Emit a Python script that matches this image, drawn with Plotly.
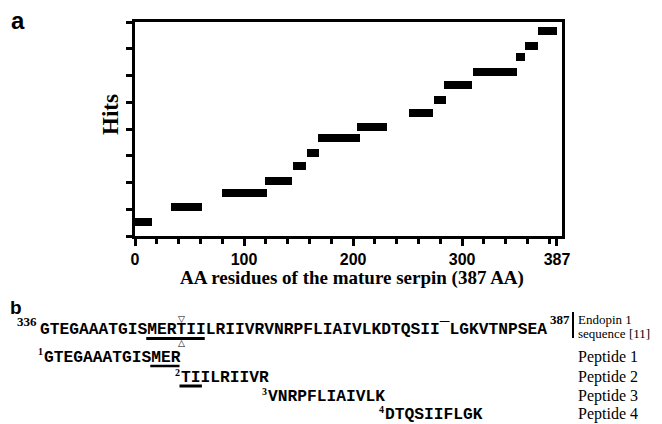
import plotly.graph_objects as go

# ---- data (panel a): peptide hits along the mature serpin ----
hit_start = [0, 33, 80, 119, 145, 158, 168, 204, 251, 274, 283, 310, 349, 358, 370]
hit_end = [16, 61, 121, 144, 157, 169, 206, 231, 273, 285, 309, 350, 358, 370, 387]
hit_level = [0.53, 1.10, 1.60, 2.07, 2.62, 3.09, 3.65, 4.06, 4.61, 5.08, 5.63, 6.13, 6.68, 7.12, 7.67]
x_tickvals = [0, 100, 200, 300, 387]
x_ticktext = ["0", "100", "200", "300", "387"]
y_tickvals = [0, 1, 2, 3, 4, 5, 6, 7, 8]

# ---- data (panel b): sequences ----
endopin_seq = "GTEGAAATGISMERTIILRIIVRVNRPFLIAIVLKDTQSII\u00afLGKVTNPSEA"
endopin_start_num = "336"
endopin_end_num = "387"
peptides = ["GTEGAAATGISMER", "TIILRIIVR", "VNRPFLIAIVLK", "DTQSIIFLGK"]
peptide_offsets = [0, 14, 23, 35]
peptide_nums = ["1", "2", "3", "4"]
peptide_labels = ["Peptide 1", "Peptide 2", "Peptide 3", "Peptide 4"]

PAGE_W, PAGE_H = 662, 424
OFF = 8  # default page body margin
L, R, T, B = 135, 562, 22, 236  # plot area in page pixels


def px(x):
    return (x - L) / (R - L)


def py(y):
    return (B - y) / (B - T)


fig = go.Figure()
fig.add_trace(go.Bar(
    orientation="h",
    y=hit_level,
    x=[e - s for s, e in zip(hit_start, hit_end)],
    base=hit_start,
    width=0.3,
    marker=dict(color="black", line=dict(width=0)),
    showlegend=False,
    hoverinfo="skip",
))

ann = []


def add_text(text, x, y, size, family, xanchor="left", yanchor="middle", bold=False, angle=0):
    t = f"<b>{text}</b>" if bold else text
    ann.append(dict(text=t, x=px(x), y=py(y), xref="paper", yref="paper",
                    xanchor=xanchor, yanchor=yanchor, showarrow=False,
                    textangle=angle, borderpad=0,
                    font=dict(size=size, family=family, color="black")))


SERIF = "Liberation Serif"
SANS = "Liberation Sans"
MONO = "Liberation Mono"

# panel labels
add_text("a", 10, 21, 24, SANS, bold=True)
add_text("b", 9, 307, 19, SANS, bold=True)

# axis titles
add_text("Hits", 110, 115, 23, SERIF, xanchor="center", bold=True, angle=-90)
add_text("AA residues of the mature serpin (387 AA)", 352, 278, 19, SERIF,
         xanchor="center", bold=True)

# sequence lines
x0 = 39
cw = 9.75
fs = cw / 0.6
line_y = [329, 357, 377, 396, 414]
add_text(endopin_start_num, 16, 321, 13, SERIF, bold=True)
add_text(endopin_seq, x0, line_y[0], fs, MONO, bold=True)
end_x = x0 + len(endopin_seq) * cw
add_text(endopin_end_num, end_x + 3, 319, 13, SERIF, bold=True)
add_text("Endopin 1", 577, 319, 13, SERIF)
add_text("sequence [11]", 577, 333, 13, SERIF)

for i, (pep, off, num, lab) in enumerate(zip(peptides, peptide_offsets, peptide_nums, peptide_labels)):
    yy = line_y[i + 1]
    xs = x0 + off * cw + 4
    add_text(pep, xs, yy, fs, MONO, bold=True)
    add_text(num, xs + 1, yy - 5, 10, SERIF, xanchor="right", bold=True)
    add_text(lab, 577, yy, 16, SERIF)

# cleavage-site markers
add_text("\u25bd", 181, 319, 9, "DejaVu Sans", xanchor="center")
add_text("\u25b3", 181, 343, 9, "DejaVu Sans", xanchor="center")

shapes = []


def hline(xa, xb, y, w):
    shapes.append(dict(type="line", xref="paper", yref="paper",
                       x0=px(xa), x1=px(xb), y0=py(y), y1=py(y),
                       line=dict(color="black", width=w)))


# underlines
hline(x0 + 11 * cw, x0 + 17 * cw, 338.5, 3)
hline(x0 + 4 + 11 * cw, x0 + 4 + 14 * cw, 366, 2.5)
hline(x0 + 4 + 14 * cw, x0 + 4 + 16.3 * cw, 386, 3)
# separator bar before the Endopin label
shapes.append(dict(type="line", xref="paper", yref="paper",
                   x0=px(573), x1=px(573), y0=py(312), y1=py(338),
                   line=dict(color="black", width=2)))

fig.update_layout(
    width=PAGE_W - OFF, height=PAGE_H - OFF,
    margin=dict(l=L - OFF, r=PAGE_W - R, t=T - OFF, b=PAGE_H - B, pad=0),
    paper_bgcolor="white", plot_bgcolor="white",
    annotations=ann, shapes=shapes,
    bargap=0,
    xaxis=dict(
        range=[0, 391.6], tickmode="array", tickvals=x_tickvals, ticktext=x_ticktext,
        ticks="outside", ticklen=7, tickwidth=2.5, tickcolor="black",
        showline=True, linewidth=3, linecolor="black", mirror=True,
        showgrid=False, zeroline=False,
        tickfont=dict(family=SANS, size=16, color="black", weight="bold"),
        minor=dict(tickmode="linear", tick0=0, dtick=20, ticks="outside",
                   ticklen=5, tickwidth=2.5, tickcolor="black", showgrid=False),
        fixedrange=True,
    ),
    yaxis=dict(
        range=[0, 8], tickmode="array", tickvals=y_tickvals, showticklabels=False,
        ticks="outside", ticklen=6, tickwidth=2.5, tickcolor="black",
        showline=True, linewidth=3, linecolor="black", mirror=True,
        showgrid=False, zeroline=False, fixedrange=True,
    ),
)

fig.write_html("out.html")
